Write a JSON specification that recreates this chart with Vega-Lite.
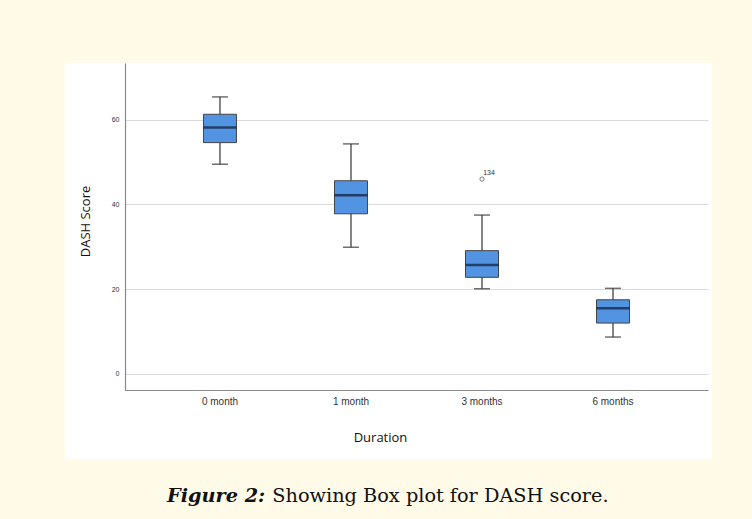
{
  "$schema": "https://vega.github.io/schema/vega-lite/v6.json",
  "width": 647,
  "height": 396,
  "autosize": {"type": "none"},
  "padding": {"left": 65, "top": 63, "right": 40, "bottom": 60},
  "background": "#fffbe8",
  "config": {
    "view": {"fill": "white", "stroke": null},
    "font": "Liberation Sans"
  },
  "datasets": {
    "boxes": [
      {"duration": "0 month", "min": 49.5, "q1": 54.6, "median": 58.2, "q3": 61.3, "max": 65.4},
      {"duration": "1 month", "min": 29.9, "q1": 37.8, "median": 42.2, "q3": 45.6, "max": 54.3},
      {"duration": "3 months", "min": 20.1, "q1": 22.8, "median": 25.7, "q3": 29.1, "max": 37.5},
      {"duration": "6 months", "min": 8.7, "q1": 12.0, "median": 15.5, "q3": 17.5, "max": 20.2}
    ],
    "outliers": [
      {"duration": "3 months", "value": 46.0, "case": "134"}
    ],
    "caption": [
      {"caption": "Showing Box plot for DASH score."}
    ]
  },
  "data": {"name": "boxes"},
  "encoding": {
    "x": {
      "field": "duration",
      "type": "nominal",
      "sort": ["0 month", "1 month", "3 months", "6 months"],
      "scale": {
        "domain": ["0 month", "1 month", "3 months", "6 months"],
        "range": [60, 643],
        "paddingInner": 0,
        "paddingOuter": 0.225
      },
      "axis": {
        "title": "Duration",
        "orient": "bottom",
        "offset": -69,
        "labelAngle": 0,
        "labelFontSize": 10,
        "labelColor": "#333",
        "labelPadding": 6,
        "ticks": false,
        "domainColor": "#8a8a8a",
        "domainWidth": 1.2,
        "titleFont": "Open Sans",
        "titleFontSize": 13,
        "titleFontWeight": "normal",
        "titleColor": "#111",
        "titleX": 315,
        "titleY": 47,
        "titleAlign": "center",
        "titleBaseline": "middle"
      }
    }
  },
  "layer": [
    {
      "mark": {"type": "rule", "color": "#333", "strokeWidth": 1.2},
      "encoding": {
        "y": {
          "field": "min",
          "type": "quantitative",
          "scale": {"domain": [-3.8, 73.4], "range": [327, 0], "nice": false, "zero": false},
          "axis": {
            "title": "DASH Score",
            "offset": -60,
            "values": [0, 20, 40, 60],
            "ticks": false,
            "labelFontSize": 7,
            "labelColor": "#333",
            "labelPadding": 6,
            "grid": true,
            "gridColor": "#d9d9d9",
            "gridWidth": 1.2,
            "domainColor": "#8a8a8a",
            "domainWidth": 1.2,
            "titleFont": "Open Sans",
            "titleFontSize": 13,
            "titleFontWeight": "normal",
            "titleColor": "#111",
            "titleX": -40,
            "titleY": 158,
            "titleAngle": -90,
            "titleAlign": "center",
            "titleBaseline": "middle"
          }
        },
        "y2": {"field": "max"}
      }
    },
    {
      "mark": {"type": "tick", "color": "#333", "size": 16, "thickness": 1.5, "orient": "horizontal"},
      "encoding": {"y": {"field": "min", "type": "quantitative"}}
    },
    {
      "mark": {"type": "tick", "color": "#333", "size": 16, "thickness": 1.5, "orient": "horizontal"},
      "encoding": {"y": {"field": "max", "type": "quantitative"}}
    },
    {
      "mark": {"type": "bar", "width": 33, "fill": "#5294e2", "stroke": "#444", "strokeWidth": 1},
      "encoding": {
        "y": {"field": "q1", "type": "quantitative"},
        "y2": {"field": "q3"}
      }
    },
    {
      "mark": {"type": "tick", "color": "#0d1b33", "size": 33, "thickness": 2.5, "orient": "horizontal"},
      "encoding": {"y": {"field": "median", "type": "quantitative"}}
    },
    {
      "data": {"name": "outliers"},
      "mark": {"type": "point", "shape": "circle", "filled": false, "size": 18, "color": "#444", "strokeWidth": 1},
      "encoding": {"y": {"field": "value", "type": "quantitative"}}
    },
    {
      "data": {"name": "outliers"},
      "mark": {"type": "text", "fontSize": 7, "color": "#333", "dx": 7, "dy": -6},
      "encoding": {
        "y": {"field": "value", "type": "quantitative"},
        "text": {"field": "case"}
      }
    },
    {
      "data": {"name": "caption"},
      "mark": {"type": "point", "opacity": 0, "size": 0},
      "encoding": {
        "color": {
          "field": "caption",
          "type": "nominal",
          "scale": {"range": ["#111111"]},
          "legend": {
            "orient": "none",
            "legendX": 102,
            "legendY": 423,
            "direction": "horizontal",
            "title": "Figure 2:",
            "titleOrient": "left",
            "titleFont": "DejaVu Serif",
            "titleFontSize": 19.3,
            "titleFontWeight": "bold",
            "titleFontStyle": "italic",
            "titleColor": "#111",
            "titlePadding": 2,
            "titleBaseline": "middle",
            "titleLimit": 300,
            "labelFont": "DejaVu Serif",
            "labelFontSize": 19.3,
            "labelColor": "#111",
            "labelLimit": 600,
            "labelOffset": -15,
            "symbolOpacity": 0,
            "symbolSize": 0,
            "symbolStrokeWidth": 0,
            "padding": 0
          }
        }
      }
    }
  ]
}
